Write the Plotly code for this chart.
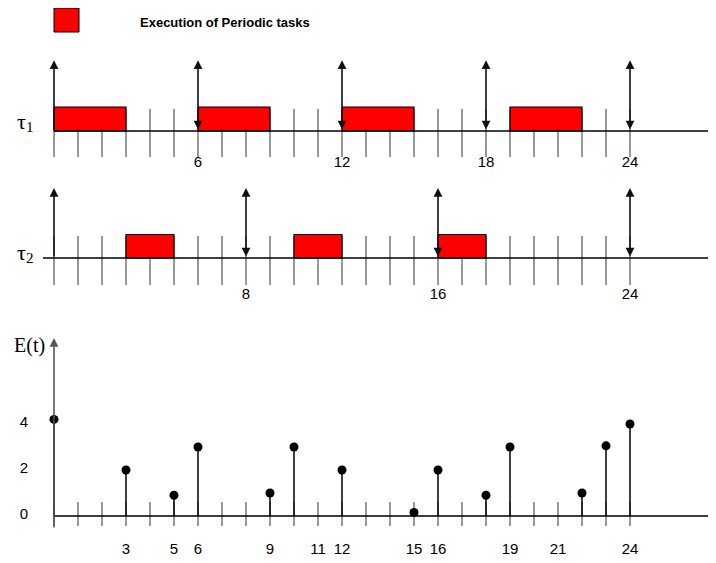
import plotly.graph_objects as go

# ---------------- data ----------------
tau1_start = [0, 6, 12, 19]
tau1_end = [3, 9, 15, 22]
tau2_start = [3, 10, 16]
tau2_end = [5, 12, 18]
tau1_releases = [0, 6, 12, 18, 24]
tau2_releases = [0, 8, 16, 24]
tau1_tick_labels = [6, 12, 18, 24]
tau2_tick_labels = [8, 16, 24]
energy_t = [0, 3, 5, 6, 9, 10, 12, 15, 16, 18, 19, 22, 23, 24]
energy_values = [4.2, 2.0, 0.9, 3.0, 1.0, 3.0, 2.0, 0.15, 2.0, 0.9, 3.0, 1.0, 3.05, 4.0]
energy_x_labels = [3, 5, 6, 9, 11, 12, 15, 16, 19, 21, 24]
energy_y_labels = [0, 2, 4]
time_ticks = list(range(0, 25))

# ---------------- geometry ----------------
OFF = 8                      # page body margin
W, H = 716 - OFF, 563 - OFF  # figure size
X0 = 54 - OFF                # pixel of t = 0 inside the figure
XR = [-X0 / 24, (W - X0) / 24]
RED = "#ff0000"
GREY = "#7f7f7f"
SANS = "Liberation Sans, Arial, sans-serif"
SERIF = "Liberation Serif, Times New Roman, serif"


def px_x(p):
    return (p - OFF) / W


def px_y(p):
    return 1 - (p - OFF) / H


fig = go.Figure()


def tick_trace(ylo, yhi, xa, ya):
    xs, ys = [], []
    for t in time_ticks:
        xs += [t, t, None]
        ys += [ylo, yhi, None]
    return go.Scatter(x=xs, y=ys, mode="lines", line=dict(color=GREY, width=1.6),
                      xaxis=xa, yaxis=ya, hoverinfo="skip", showlegend=False)


def boxes(starts, ends, xa, ya):
    xs, ys = [], []
    for s, e in zip(starts, ends):
        xs += [s, e, e, s, s, None]
        ys += [0, 0, 1, 1, 0, None]
    return go.Scatter(x=xs, y=ys, mode="lines", fill="toself", fillcolor=RED,
                      line=dict(color="black", width=1.2),
                      xaxis=xa, yaxis=ya, showlegend=False, hoverinfo="skip")


def baseline(x0, xa, ya):
    return go.Scatter(x=[x0, XR[1]], y=[0, 0], mode="lines",
                      line=dict(color="black", width=1.3),
                      xaxis=xa, yaxis=ya, hoverinfo="skip", showlegend=False)


def text_trace(xs, ys, texts, xa, ya):
    return go.Scatter(x=xs, y=ys, text=texts, mode="text",
                      textfont=dict(family=SANS, size=15, color="black"),
                      xaxis=xa, yaxis=ya, showlegend=False, hoverinfo="skip")


# tau1 panel
fig.add_trace(tick_trace(-1.08, 0.92, "x", "y"))
fig.add_trace(boxes(tau1_start, tau1_end, "x", "y"))
fig.add_trace(baseline(0, "x", "y"))
fig.add_trace(text_trace(tau1_tick_labels, [-1.35] * len(tau1_tick_labels),
                         [str(v) for v in tau1_tick_labels], "x", "y"))

# tau2 panel
fig.add_trace(tick_trace(-1.15, 0.94, "x2", "y2"))
fig.add_trace(boxes(tau2_start, tau2_end, "x2", "y2"))
fig.add_trace(baseline(-0.46, "x2", "y2"))
fig.add_trace(text_trace(tau2_tick_labels, [-1.57] * len(tau2_tick_labels),
                         [str(v) for v in tau2_tick_labels], "x2", "y2"))

# energy panel
fig.add_trace(tick_trace(-0.43, 0.61, "x3", "y3"))
fig.add_trace(baseline(0, "x3", "y3"))
sx, sy = [], []
for t, v in zip(energy_t, energy_values):
    sx += [t, t, None]
    sy += [0, v, None]
fig.add_trace(go.Scatter(x=sx, y=sy, mode="lines", line=dict(color="black", width=1.5),
                         xaxis="x3", yaxis="y3", showlegend=False, hoverinfo="skip"))
fig.add_trace(go.Scatter(x=energy_t, y=energy_values, mode="markers",
                         marker=dict(color="black", size=9),
                         xaxis="x3", yaxis="y3", showlegend=False, hoverinfo="skip"))
fig.add_trace(text_trace(energy_x_labels, [-1.48] * len(energy_x_labels),
                         [str(v) for v in energy_x_labels], "x3", "y3"))
fig.add_trace(text_trace([-1.25] * len(energy_y_labels), [v + 0.05 for v in energy_y_labels],
                         [str(v) for v in energy_y_labels], "x3", "y3"))

annotations = []


def arrow(t, ytop, xa, ya, double, ybot=0, color="#111111"):
    a = dict(x=t, y=ytop, ax=t, ay=ybot, xref=xa, yref=ya, axref=xa, ayref=ya,
             text="", showarrow=True, arrowhead=2, arrowsize=1.1, arrowwidth=1.6,
             arrowcolor=color, standoff=0, startstandoff=0)
    if double:
        a.update(arrowside="end+start", startarrowhead=2, startarrowsize=1.1)
    annotations.append(a)


for t in tau1_releases:
    arrow(t, 2.95, "x", "y", double=(t != 0))
for t in tau2_releases:
    arrow(t, 2.98, "x2", "y2", double=(t != 0))
arrow(0, 7.74, "x3", "y3", double=False, ybot=-0.57, color="#555555")


def label(text, cx, cy, size, family=SERIF):
    annotations.append(dict(x=px_x(cx), y=px_y(cy), xref="paper", yref="paper",
                            xanchor="center", yanchor="middle",
                            text=text, showarrow=False,
                            font=dict(family=family, size=size, color="black")))


label("τ", 21, 121, 22)
label("1", 29.5, 127, 15)
label("τ", 21, 253, 22)
label("2", 29.5, 257.5, 15)
label("E(t)", 29.5, 345, 20)
annotations.append(dict(x=px_x(138), y=px_y(23), xref="paper", yref="paper",
                        xanchor="left", yanchor="middle",
                        text="<b>Execution of Periodic tasks</b>", showarrow=False,
                        font=dict(family=SANS, size=13, color="black")))

shapes = [dict(type="rect", xref="paper", yref="paper",
               x0=px_x(54), x1=px_x(79), y0=px_y(32), y1=px_y(8),
               fillcolor=RED, line=dict(color="black", width=1))]


def ax(domain_px, y_base_px, unit_px):
    top, bot = domain_px
    return dict(domain=[px_y(bot), px_y(top)],
                range=[(y_base_px - bot) / unit_px, (y_base_px - top) / unit_px],
                visible=False, fixedrange=True)


xcommon = dict(range=XR, visible=False, domain=[0, 1], fixedrange=True)
fig.update_layout(
    width=W, height=H, margin=dict(l=0, r=0, t=0, b=0),
    plot_bgcolor="white", paper_bgcolor="white",
    xaxis=dict(**xcommon, anchor="y"),
    xaxis2=dict(**xcommon, anchor="y2"),
    xaxis3=dict(**xcommon, anchor="y3"),
    yaxis=dict(**ax((40, 180), 131, 24), anchor="x"),
    yaxis2=dict(**ax((180, 310), 258, 23.5), anchor="x2"),
    yaxis3=dict(**ax((310, 563), 516, 23), anchor="x3"),
    annotations=annotations, shapes=shapes, showlegend=False,
)

fig.write_html("out.html")
